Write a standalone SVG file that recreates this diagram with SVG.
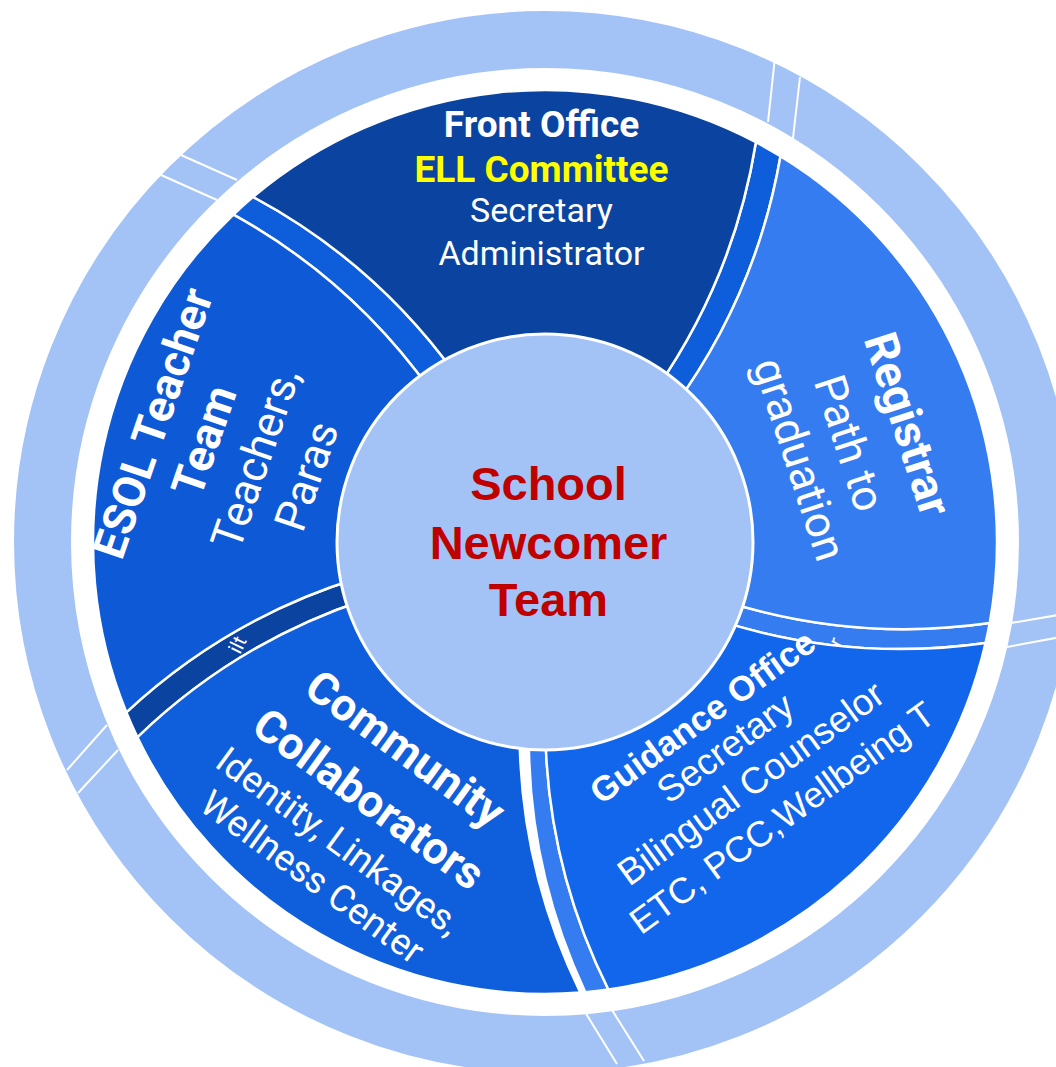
<svg xmlns="http://www.w3.org/2000/svg" width="1056" height="1067" viewBox="0 0 1056 1067">
<style>
.seg{stroke:#fff;stroke-width:2.5;stroke-linejoin:round}
.sep{stroke:#fff;stroke-width:2;fill:none}
.r{font-family:Roboto,"Liberation Sans",sans-serif;fill:#fff;text-anchor:middle}
.a{font-family:"Liberation Sans",Arial,sans-serif;fill:#fff;text-anchor:middle}
.b{font-weight:bold}
.tiny{font-family:Roboto,sans-serif;fill:#fff;font-size:20px}
</style>
<defs>
<clipPath id="clipCE"><path d="M365.7,599.5 A600 600 0 0 0 137.4,737.3 A452 452 0 0 1 126.3,712.3 A600 600 0 0 1 359.1,577.8 Z"/></clipPath>
<clipPath id="clipRG"><path d="M723.9,601 A600 600 0 0 0 989.7,623.1 A452 452 0 0 1 985.6,642.9 A600 600 0 0 1 716.5,619.9 Z"/></clipPath>
</defs>
<rect width="1056" height="1067" fill="#fff"/>
<g id="outer-ring">
<circle cx="545" cy="542" r="502.5" fill="none" stroke="#A3C3F7" stroke-width="57"/>
<line class="sep" x1="768" y1="122" x2="775" y2="57"/>
<line class="sep" x1="793" y1="138" x2="800" y2="77"/>
<line class="sep" x1="217" y1="200" x2="161" y2="175"/>
<line class="sep" x1="237" y1="180" x2="181" y2="155"/>
<line class="sep" x1="107" y1="725" x2="67" y2="770"/>
<line class="sep" x1="118" y1="750" x2="78" y2="793"/>
<line class="sep" x1="585" y1="1012" x2="617" y2="1064"/>
<line class="sep" x1="612" y1="1010" x2="644" y2="1061"/>
<line class="sep" x1="1011" y1="623" x2="1070" y2="613"/>
<line class="sep" x1="1007" y1="647" x2="1066" y2="636"/>
</g>
<g id="connectors">
<path id="strip-fo-reg" class="seg" fill="#0E5EDC" d="M655.8,389.7 A600 600 0 0 0 755.9,142.2 A452 452 0 0 1 780.5,156.2 A600 600 0 0 1 673.3,407.8 Z"/>
<path id="strip-reg-gui" class="seg" fill="#357CF0" d="M723.9,601 A600 600 0 0 0 989.7,623.1 A452 452 0 0 1 985.6,642.9 A600 600 0 0 1 716.5,619.9 Z"/>
<path id="strip-gui-com" class="seg" fill="#357CF0" d="M545.3,728.5 A600 600 0 0 0 608.4,989.5 A452 452 0 0 1 585.3,992.2 A600 600 0 0 1 528.9,728 Z"/>
<path id="strip-com-esol" class="seg" fill="#0B44A0" d="M365.7,599.5 A600 600 0 0 0 137.4,737.3 A452 452 0 0 1 126.3,712.3 A600 600 0 0 1 359.1,577.8 Z"/>
<path id="strip-esol-fo" class="seg" fill="#0E5EDC" d="M431.1,391.2 A600 600 0 0 0 233.4,214.6 A452 452 0 0 1 253.1,196.9 A600 600 0 0 1 455.7,374.5 Z"/>
</g>
<g id="front-office">
<path class="seg" fill="#0B44A0" d="M455.7,374.5 A600 600 0 0 0 253.1,196.9 A452 452 0 0 1 755.9,142.2 A600 600 0 0 1 655.8,389.7 Z"/>
<text class="r b" x="541.5" y="137" font-size="37">Front Office</text>
<text class="r b" x="541.5" y="182" font-size="37" style="fill:#FFFF00">ELL Committee</text>
<text class="r" x="541.5" y="222" font-size="34">Secretary</text>
<text class="r" x="541.5" y="265" font-size="34">Administrator</text>
</g>
<g id="registrar">
<path class="seg" fill="#357CF0" d="M673.3,407.8 A600 600 0 0 0 780.5,156.2 A452 452 0 0 1 989.7,623.1 A600 600 0 0 1 723.9,601 Z"/>
<g transform="translate(850,443) rotate(72)">
<text class="r b" x="0" y="-45" font-size="46">Registrar</text>
<text class="r" x="0" y="15.6" font-size="44">Path to</text>
<text class="r" x="0" y="68" font-size="44">graduation</text>
</g>
</g>
<g id="guidance-office">
<path class="seg" fill="#1166EB" d="M716.5,619.9 A600 600 0 0 0 985.6,642.9 A452 452 0 0 1 608.4,989.5 A600 600 0 0 1 545.3,728.5 Z"/>
<g transform="translate(726.7,750) rotate(-36)">
<text class="a b" x="0" y="-29" font-size="35">Guidance Office</text>
<text class="a" x="0" y="10" font-size="37">Secretary</text>
<text class="a" x="0" y="53.6" font-size="37">Bilingual Counselor</text>
<text class="a" x="5" y="99.6" font-size="36">ETC, PCC,Wellbeing T</text>
</g>
</g>
<g id="community-collaborators">
<path class="seg" fill="#0F5EDC" d="M519.5,726.2 A600 600 0 0 0 580.4,992.6 A452 452 0 0 1 137.4,737.3 A600 600 0 0 1 365.7,599.5 Z"/>
<g transform="translate(369,799) rotate(36)">
<text class="r b" x="0" y="-46.5" font-size="45">Community</text>
<text class="r b" x="0" y="15.5" font-size="45">Collaborators</text>
<text class="r" x="0" y="64.7" font-size="37">Identity, Linkages,</text>
<text class="r" x="0" y="109" font-size="37">Wellness Center</text>
</g>
</g>
<g id="esol-teacher-team">
<path class="seg" fill="#0E59D5" d="M359.1,577.8 A600 600 0 0 0 126.3,712.3 A452 452 0 0 1 233.4,214.6 A600 600 0 0 1 431.1,391.2 Z"/>
<g transform="translate(231,450) rotate(-71)">
<text class="r b" x="0" y="-67" font-size="45">ESOL Teacher</text>
<text class="r b" x="0" y="-13" font-size="45">Team</text>
<text class="r" x="0" y="41" font-size="44">Teachers,</text>
<text class="r" x="0" y="95" font-size="44">Paras</text>
</g>
</g>
<g id="strip-labels">
<g clip-path="url(#clipCE)"><text class="tiny" transform="translate(240,655) rotate(-64)">ilt</text></g>
<g clip-path="url(#clipRG)"><text class="tiny" transform="translate(840,648) rotate(-62)">r</text></g>
</g>
<g id="school-newcomer-team">
<circle cx="545" cy="542" r="208" fill="#A3C3F7" stroke="#fff" stroke-width="3"/>
<text class="a b" x="548.5" y="500" font-size="47" style="fill:#C00000">School</text>
<text class="a b" x="548.5" y="559" font-size="47" style="fill:#C00000">Newcomer</text>
<text class="a b" x="548.5" y="616" font-size="47" style="fill:#C00000">Team</text>
</g>
</svg>
